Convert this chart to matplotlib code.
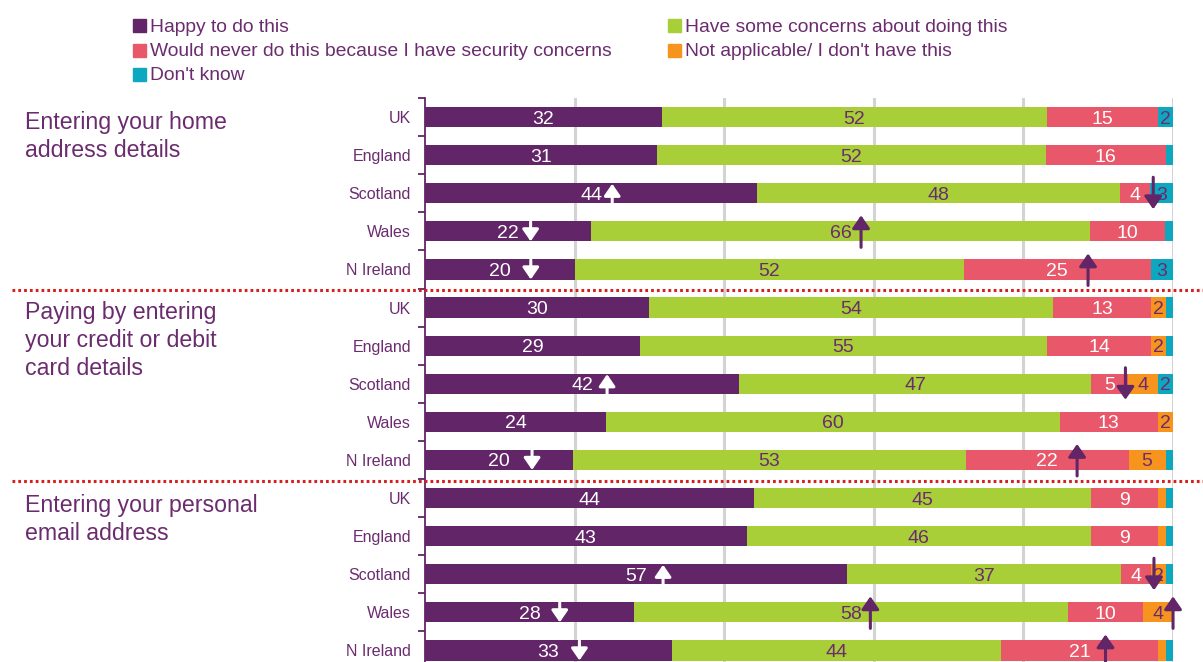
import matplotlib
matplotlib.use("Agg")
import matplotlib.pyplot as plt
import matplotlib.transforms as mtransforms
from matplotlib.lines import Line2D
from matplotlib.patches import Rectangle
from matplotlib import font_manager as fm

# ---------------- data ----------------
rows = ["UK", "England", "Scotland", "Wales", "N Ireland"]
group_titles = ["Entering your home\naddress details",
                "Paying by entering\nyour credit or debit\ncard details",
                "Entering your personal\nemail address"]
series_names = ["Happy to do this",
                "Have some concerns about doing this",
                "Would never do this because I have security concerns",
                "Not applicable/ I don't have this",
                "Don't know"]

happy          = [32, 31, 44, 22, 20,  30, 29, 42, 24, 20,  44, 43, 57, 28, 33]
concerns       = [52, 52, 48, 66, 52,  54, 55, 47, 60, 53,  45, 46, 37, 58, 44]
never          = [15, 16, 4, 10, 25,   13, 14, 5, 13, 22,   9, 9, 4, 10, 21]
not_applicable = [0, 0, 0, 0, 0,       2, 2, 4, 2, 5,       1, 1, 2, 4, 1]
dont_know      = [2, 1, 3, 1, 3,       1, 1, 2, 0, 1,       1, 1, 1, 0, 1]

# significance markers: (row index, series index, direction)
sig_markers = [(2, 0, "up"), (3, 0, "down"), (4, 0, "down"),
               (3, 1, "up"), (2, 2, "down"), (4, 2, "up"),
               (7, 0, "up"), (9, 0, "down"), (7, 2, "down"), (9, 2, "up"),
               (12, 0, "up"), (13, 0, "down"), (14, 0, "down"),
               (13, 1, "up"), (12, 2, "down"), (13, 3, "up"), (14, 2, "up")]

# ---------------- style ----------------
PURPLE = "#622567"
TXT = "#6B2C6F"
colors = [PURPLE, "#A8CE38", "#E8586A", "#F7941D", "#0CA8BF"]
label_colors = ["white", TXT, "white", TXT, TXT]
# x offsets (pixels) of the arrows relative to the segment centre
marker_offsets_px = [21, 22.5, 31, 20.5, 18, 31, 25, 33, 16, 30,
                     27, 30, 31, 19, 18, 15, 26]

names = {f.name for f in fm.fontManager.ttflist}
BASE = "Liberation Sans" if "Liberation Sans" in names else "DejaVu Sans"
plt.rcParams["font.family"] = [BASE, "DejaVu Sans"]

W, H = 1203, 662
fig = plt.figure(figsize=(W / 100, H / 100), dpi=100)
ax_left, ax_right, ax_top, ax_bot = 425, 1173, 98, 669.5
ax = fig.add_axes([ax_left / W, 1 - ax_bot / H, (ax_right - ax_left) / W,
                   (ax_bot - ax_top) / H])

all_rows = rows * len(group_titles)
n = len(all_rows)
ypos = list(range(n))
series = [happy, concerns, never, not_applicable, dont_know]
totals = [sum(s[i] for s in series) for i in range(n)]
norm = [[s[i] * 100.0 / totals[i] for i in range(n)] for s in series]

bar_h = 0.53
lefts = [0.0] * n
centers = []
for k, vals in enumerate(norm):
    ax.barh(ypos, vals, left=lefts, height=bar_h, color=colors[k],
            edgecolor="none", zorder=3)
    cs = []
    for i in range(n):
        c = lefts[i] + vals[i] / 2
        cs.append(c)
        raw = series[k][i]
        if raw >= 2:
            ax.text(c, i, str(raw), ha="center", va="center_baseline",
                    fontsize=14, color=label_colors[k], zorder=5)
    centers.append(cs)
    lefts = [lefts[i] + vals[i] for i in range(n)]

ax.set_xlim(0, 100)
ax.set_ylim(n - 0.5, -0.5)
px_per_unit = (ax_right - ax_left) / 100.0
px_per_row = (ax_bot - ax_top) / n

# arrows
for (r, k, d), off in zip(sig_markers, marker_offsets_px):
    x = centers[k][r] + off / px_per_unit
    if k == 0:
        col, lw, ms = "white", 2.2, 13
        up_top, up_bot = r - 9.5 / px_per_row, r + 10 / px_per_row
    else:
        col, lw, ms = PURPLE, 2.2, 14
        up_top, up_bot = r - 16 / px_per_row, r + 16 / px_per_row
    if d == "up":
        head, tail = up_top, up_bot
    else:
        head, tail = up_bot, up_top
    ax.annotate("", xy=(x, head), xytext=(x, tail),
                arrowprops=dict(arrowstyle="-|>,head_length=0.55,head_width=0.38",
                                color=col, lw=lw, mutation_scale=ms,
                                shrinkA=0, shrinkB=0),
                zorder=6, annotation_clip=False)

# grid
for gx in [20, 40, 60, 80, 100]:
    ax.axvline(gx, color="#D3D3D3", lw=2.2, zorder=1)

for s in ["top", "right", "bottom"]:
    ax.spines[s].set_visible(False)
ax.spines["left"].set_color(PURPLE)
ax.spines["left"].set_linewidth(1.3)
ax.spines["left"].set_zorder(4)
ax.set_xticks([])
ax.set_yticks(ypos)
ax.set_yticklabels(all_rows, fontsize=11.5, color=TXT)
ax.tick_params(axis="y", which="major", length=0, pad=10)
ax.set_yticks([i - 0.5 for i in range(n + 1)], minor=True)
ax.tick_params(axis="y", which="minor", length=5, width=1.3, color=PURPLE)

# group separators
trans = mtransforms.blended_transform_factory(fig.transFigure, ax.transData)
for yb in [4.5, 9.5]:
    ln = Line2D([12 / W, 1.0], [yb + 0.05, yb + 0.05], transform=trans,
                color="#D91E1E", lw=2.2, linestyle=(0, (0.9, 1.0)),
                clip_on=False, zorder=7)
    ax.add_line(ln)

# group titles
title_y = [0.5, 5.87, 10.56]
for t, yy in zip(group_titles, title_y):
    ax.text(25 / W, yy, t, transform=trans, fontsize=16.7, color=TXT,
            ha="left", va="center", linespacing=1.27)

# legend (manual)
leg_items = [(0, 133, 25), (2, 133, 50), (4, 133, 74), (1, 668, 25), (3, 668, 50)]
sq = 13
for k, xp, yp in leg_items:
    fig.patches.append(Rectangle((xp / W, 1 - (yp + sq / 2) / H), sq / W, sq / H,
                                 transform=fig.transFigure, color=colors[k]))
    fig.text((xp + 17) / W, 1 - yp / H, series_names[k], fontsize=13.9,
             color=TXT, ha="left", va="center_baseline")

fig.savefig("out.png", dpi=100)
